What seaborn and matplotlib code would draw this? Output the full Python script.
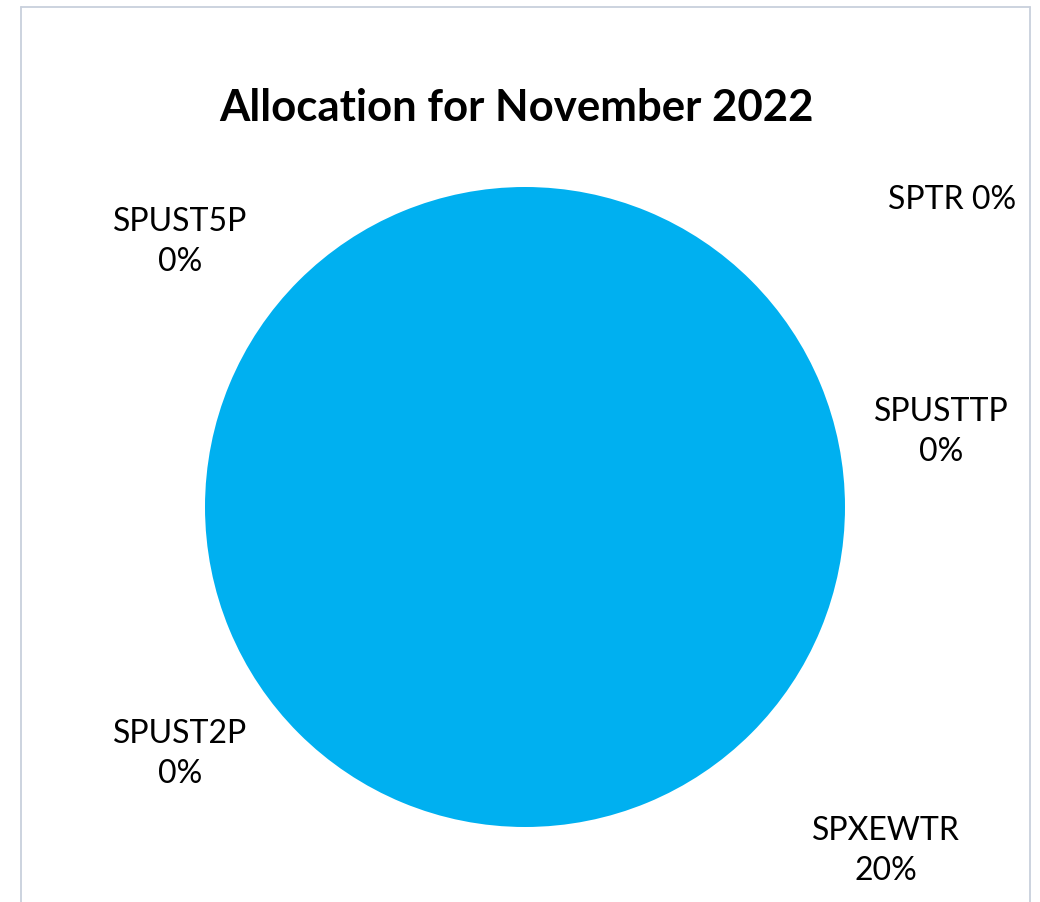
import matplotlib
matplotlib.use("Agg")
import matplotlib.pyplot as plt
import seaborn as sns
from matplotlib.lines import Line2D

sns.set_theme(style="white")
plt.rcParams['font.family'] = ['Lato', 'DejaVu Sans']

# Data
categories = ["SPTR", "SPUSTTP", "SPXEWTR", "SPUST2P", "SPUST5P"]
values = [0, 0, 1, 0, 0]
label_texts = ["SPTR 0%", "SPUSTTP\n0%", "SPXEWTR\n20%", "SPUST2P\n0%", "SPUST5P\n0%"]
title = "Allocation for November 2022"

W, H = 1040, 902
cx, cy, R = 525, 507, 320

fig = plt.figure(figsize=(W / 100, H / 100), dpi=100)
ax = fig.add_axes([0, 0, 1, 1])
colors = ["#4472C4", "#ED7D31", "#00B0F0", "#FFC000", "#5B9BD5"]
ax.pie(values, colors=colors, startangle=90, counterclock=False,
       wedgeprops=dict(linewidth=0), radius=1.0)
ax.set_xlim(-cx / R, (W - cx) / R)
ax.set_ylim(-(H - cy) / R, cy / R)
ax.set_aspect('auto')
ax.axis('off')

def px(x, y):
    return (x - cx) / R, (cy - y) / R

label_pos = [(952, 200), (941, 432), (886, 851), (180, 754), (180, 242)]
for txt, (x, y) in zip(label_texts, label_pos):
    dx, dy = px(x, y)
    ax.text(dx, dy, txt, ha='center', va='center', fontsize=23,
            color='black', linespacing=1.4)

fig.text(516 / W, 1 - 108 / H, title, ha='center', va='center',
         fontsize=31.5, fontweight='bold', color='black')

# chart border
bc = "#c8d0dc"
L, T, Rr = 20.5, 6.5, 1029.5
fig.add_artist(Line2D([L / W, L / W], [0, 1 - T / H], transform=fig.transFigure, color=bc, lw=1.3))
fig.add_artist(Line2D([Rr / W, Rr / W], [0, 1 - T / H], transform=fig.transFigure, color=bc, lw=1.3))
fig.add_artist(Line2D([L / W, Rr / W], [1 - T / H, 1 - T / H], transform=fig.transFigure, color=bc, lw=1.3))

fig.savefig("out.png", dpi=100, facecolor="white")
